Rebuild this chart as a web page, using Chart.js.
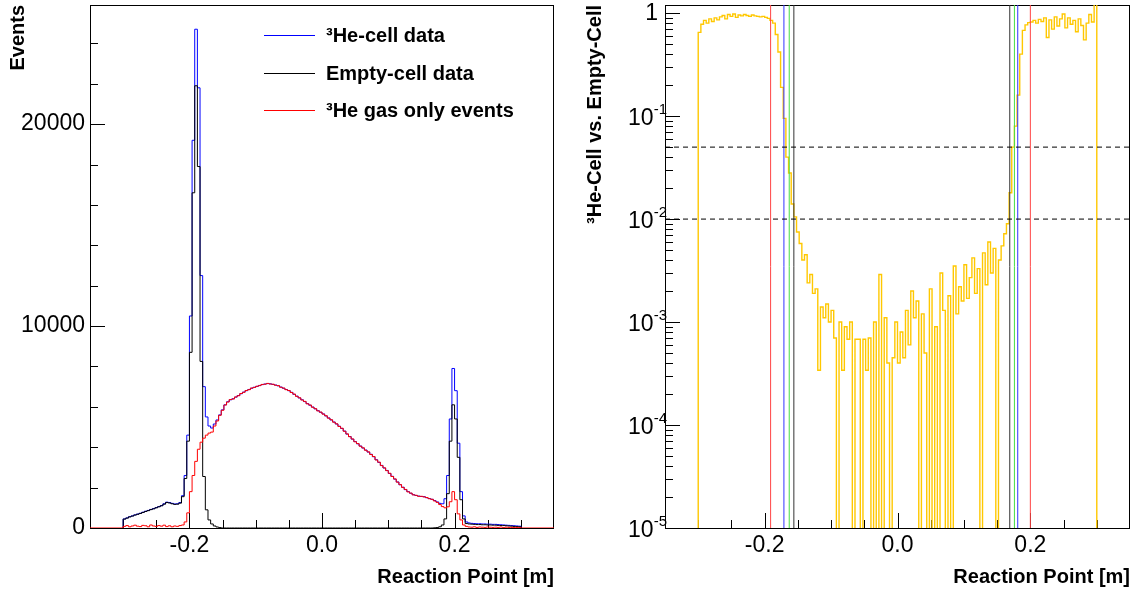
<!DOCTYPE html>
<html>
<head>
<meta charset="utf-8">
<script src="https://cdn.jsdelivr.net/npm/chart.js@4.4.1/dist/chart.umd.min.js"></script>
<style>
  html, body { margin: 0; padding: 0; background: #fff; }
  #wrap { position: relative; width: 1131px; height: 594px; }
  .panel { position: absolute; top: 0; }
  #left { left: 0; }
  #right { left: 565px; }
</style>
</head>
<body>
<div id="wrap">
  <div class="panel" id="left"><canvas id="histChart" width="565" height="594"></canvas></div>
  <div class="panel" id="right"><canvas id="ratioChart" width="566" height="594"></canvas></div>
</div>
<script>
// histogram binning: 150 bins of 0.004 m starting at -0.3 m
const binLow = -0.3;
const binWidth = 0.004;

// left panel: counts per bin
const heCell = [
  450, 500, 560, 600, 650, 690, 730, 780, 830, 870,
  920, 960, 1010, 1060, 1110, 1200, 1280, 1260, 1220, 1190,
  1200, 1260, 1600, 2600, 4600, 10500, 19200, 24700, 21800, 12500,
  7000, 5500, 5050, 4950, 5150, 5350, 5600, 5850, 6100, 6250,
  6350, 6400, 6480, 6560, 6650, 6730, 6800, 6860, 6920, 6970,
  7010, 7060, 7100, 7130, 7150, 7140, 7110, 7080, 7040, 6980,
  6920, 6860, 6800, 6720, 6620, 6530, 6440, 6350, 6260, 6160,
  6080, 5990, 5900, 5810, 5730, 5650, 5550, 5450, 5350, 5250,
  5150, 5040, 4930, 4800, 4650, 4530, 4400, 4280, 4170, 4060,
  3960, 3860, 3760, 3650, 3530, 3380, 3250, 3100, 2970, 2850,
  2700, 2560, 2420, 2280, 2140, 2020, 1900, 1800, 1720, 1650,
  1610, 1580, 1560, 1550, 1500, 1460, 1420, 1360, 1290, 1220,
  1200, 1450, 2600, 5400, 7900, 6800, 4200, 1800, 600, 300,
  250, 230, 220, 210, 210, 200, 200, 190, 190, 180,
  180, 170, 160, 150, 140, 130, 120, 110, 100, 90
];
const emptyCell = [
  440, 490, 550, 590, 640, 680, 720, 770, 820, 860,
  910, 950, 1000, 1050, 1100, 1180, 1260, 1240, 1200, 1170,
  1180, 1230, 1550, 2450, 4300, 8700, 16600, 21900, 17900, 8250,
  2550, 900, 400, 200, 100, 50, 20, 0, 0, 0,
  0, 0, 0, 0, 0, 0, 0, 0, 0, 0,
  0, 0, 0, 0, 0, 0, 0, 0, 0, 0,
  0, 0, 0, 0, 0, 0, 0, 0, 0, 0,
  0, 0, 0, 0, 0, 0, 0, 0, 0, 0,
  0, 0, 0, 0, 0, 0, 0, 0, 0, 0,
  0, 0, 0, 0, 0, 0, 0, 0, 0, 0,
  0, 0, 0, 0, 0, 0, 0, 0, 0, 0,
  0, 0, 0, 0, 0, 0, 0, 10, 20, 60,
  150, 450, 1700, 4300, 6100, 5400, 3500, 1400, 450, 220,
  200, 190, 180, 170, 170, 160, 160, 150, 150, 140,
  140, 130, 120, 120, 110, 100, 90, 80, 70, 60
];
const gasOnly = [
  80, 120, 60, 100, 140, 90, 70, 130, 110, 60,
  150, 100, 80, 120, 90, 140, 70, 110, 60, 100,
  80, 120, 150, 300, 750, 1800, 2600, 3300, 3900, 4250,
  4450, 4600, 4700, 4750, 5050, 5300, 5580, 5830, 6090, 6240,
  6360, 6390, 6490, 6550, 6660, 6720, 6810, 6850, 6930, 6960,
  7020, 7050, 7110, 7120, 7160, 7130, 7120, 7070, 7050, 6970,
  6930, 6850, 6810, 6710, 6630, 6520, 6450, 6340, 6270, 6150,
  6090, 5980, 5910, 5800, 5740, 5640, 5560, 5440, 5360, 5240,
  5160, 5030, 4940, 4790, 4660, 4520, 4410, 4270, 4180, 4050,
  3970, 3850, 3770, 3640, 3540, 3370, 3260, 3090, 2980, 2840,
  2710, 2550, 2430, 2270, 2150, 2010, 1910, 1790, 1730, 1640,
  1620, 1570, 1570, 1540, 1510, 1450, 1420, 1340, 1270, 1160,
  1060, 1000, 1050, 1300, 1800, 1400, 700, 400, 150, 80,
  50, 40, 60, 30, 50, 40, 30, 50, 40, 30,
  40, 30, 50, 20, 40, 30, 30, 20, 30, 20
];

// right panel: ratio per bin (0 = empty bin)
const ratio = [
  0.65, 0.78, 0.85, 0.80, 0.88, 0.83, 0.90, 0.86, 0.92, 0.95,
  0.88, 0.97, 0.93, 0.98, 0.91, 0.96, 0.94, 0.97, 0.95, 0.93,
  0.96, 0.94, 0.93, 0.92, 0.93, 0.91, 0.89, 0.85, 0.80, 0.62,
  0.42, 0.19, 0.095, 0.040, 0.028, 0.014, 0.0105, 0.0075, 0.0058, 0.0040,
  0.0045, 0.0024, 0.0029, 0.0019, 0.0021, 0.00034, 0.0014, 0.0011, 0.0015, 0.0010,
  0.0013, 0.0007, 0, 0.0010, 0.00034, 0.0009, 0.00068, 0.0010, 0, 0.00068,
  0.00068, 0, 0.00068, 0.00034, 0.0007, 0, 0.0010, 0, 0.0029, 0,
  0.0011, 0.0004, 0, 0.00045, 0.0010, 0.0004, 0.0008, 0.00045, 0.0013, 0.0006,
  0.0020, 0.0011, 0.0016, 0, 0.0012, 0.0005, 0, 0.0021, 0, 0.0009,
  0, 0.0030, 0.0013, 0, 0.0018, 0, 0.0035, 0.0012, 0.0022, 0.0016,
  0.0036, 0.0017, 0.0027, 0.0042, 0.0019, 0.0033, 0, 0.0047, 0.0023, 0.0060,
  0.0030, 0.0052, 0, 0.0040, 0.0055, 0.0072, 0.009, 0.018, 0.050, 0.080,
  0.16, 0.40, 0.68, 0.77, 0.81, 0.82, 0.85, 0.80, 0.87, 0.83,
  0.90, 0.58, 0.86, 0.70, 0.92, 0.75, 0.88, 0.98, 0.72, 0.90,
  0.78, 0.85, 0.66, 0.88, 0.76, 0.55, 0.80, 0.97, 0.82, 1.6
];

// cut positions [m] and ratio levels
const cutRed = [-0.191, 0.200];
const cutBlue = [-0.171, 0.181];
const cutGreen = [-0.163, 0.176];
const cutBlack = [-0.156, 0.169];
const ratioLevels = [0.05, 0.01];

// ticks and labels
const xLabelTicks = [-0.2, 0.0, 0.2];
const xMinorTicks = [-0.3, -0.25, -0.15, -0.1, -0.05, 0.05, 0.1, 0.15, 0.25, 0.3];
const histLabelTicks = [0, 10000, 20000];
const histMinorTicks = [2000, 4000, 6000, 8000, 12000, 14000, 16000, 18000, 22000, 24000];
const ratioExponents = [0, -1, -2, -3, -4, -5];
const legendLabels = ['\u00b3He-cell data', 'Empty-cell data', '\u00b3He gas only events'];

const FONT = '"Liberation Sans", Arial, Helvetica, sans-serif';
Chart.defaults.font.family = FONT;
Chart.defaults.color = '#000';

function stepPoints(values, floor) {
  const pts = [{x: binLow, y: floor}];
  values.forEach((v, i) => pts.push({x: binLow + i * binWidth, y: v > 0 ? v : floor}));
  pts.push({x: binLow + values.length * binWidth, y: floor});
  return pts;
}

function histSet(data, color, width) {
  return {data, borderColor: color, borderWidth: width || 1, pointRadius: 0, stepped: 'before', fill: false};
}

// keep the chart area where it is: no extra room for edge labels
function noPad(s) {
  s.paddingTop = 0; s.paddingBottom = 0; s.paddingLeft = 0; s.paddingRight = 0;
}

// ROOT style frame with ticks pointing inward
const rootAxes = {
  id: 'rootAxes',
  beforeDatasetsDraw(chart, args, opts) {
    const {ctx, chartArea: a, scales} = chart;
    const snap = v => Math.round(v) + 0.5;
    ctx.save();
    ctx.strokeStyle = '#000';
    ctx.lineWidth = 1;
    ctx.beginPath();
    opts.xMajor.forEach(v => { const p = snap(scales.x.getPixelForValue(v)); ctx.moveTo(p, a.bottom); ctx.lineTo(p, a.bottom - 15); });
    opts.xMinor.forEach(v => { const p = snap(scales.x.getPixelForValue(v)); ctx.moveTo(p, a.bottom); ctx.lineTo(p, a.bottom - 8); });
    opts.yMajor.forEach(v => { const p = snap(scales.y.getPixelForValue(v)); ctx.moveTo(a.left, p); ctx.lineTo(a.left + 15, p); });
    opts.yMinor.forEach(v => { const p = snap(scales.y.getPixelForValue(v)); ctx.moveTo(a.left, p); ctx.lineTo(a.left + 8, p); });
    ctx.stroke();
    ctx.strokeRect(Math.round(a.left) + 0.5, Math.round(a.top) + 0.5,
                   Math.round(a.right - a.left) - 1, Math.round(a.bottom - a.top));
    ctx.restore();
  }
};

const histLegend = {
  id: 'histLegend',
  afterDraw(chart, args, opts) {
    const ctx = chart.ctx;
    ctx.save();
    ctx.font = 'bold 20px ' + FONT;
    ctx.textBaseline = 'middle';
    opts.items.forEach((it, i) => {
      const yy = Math.round(opts.top + i * opts.step) + 0.5;
      ctx.strokeStyle = it.color;
      ctx.lineWidth = 1;
      ctx.beginPath();
      ctx.moveTo(opts.x0, yy);
      ctx.lineTo(opts.x1, yy);
      ctx.stroke();
      ctx.fillStyle = '#000';
      ctx.fillText(it.text, opts.tx, yy + 1);
    });
    ctx.restore();
  }
};

const logLabels = {
  id: 'logLabels',
  afterDraw(chart, args, opts) {
    const {ctx, chartArea: a, scales: {y}} = chart;
    ctx.save();
    ctx.fillStyle = '#000';
    ctx.textBaseline = 'middle';
    ctx.textAlign = 'right';
    opts.exponents.forEach(n => {
      const py = y.getPixelForValue(Math.pow(10, n));
      if (n === 0) {
        ctx.font = '23px ' + FONT;
        ctx.fillText('1', a.left - 7, py + 1);
        return;
      }
      const exp = String(n);
      ctx.font = '15px ' + FONT;
      ctx.fillText(exp, a.left + 2, py - 6);
      const w = ctx.measureText(exp).width;
      ctx.font = '23px ' + FONT;
      ctx.fillText('10', a.left + 2 - w, py + 3);
    });
    ctx.restore();
  }
};

function xAxis() {
  return {
    type: 'linear', min: -0.35, max: 0.35,
    grid: {display: false, drawTicks: false},
    border: {display: false},
    afterBuildTicks: s => { s.ticks = xLabelTicks.map(v => ({value: v})); },
    afterFit: s => { s.height = 66; noPad(s); },
    ticks: {autoSkip: false, maxRotation: 0, padding: 4, font: {size: 23},
            callback: v => Number(v).toFixed(1)},
    title: {display: true, text: 'Reaction Point [m]', align: 'end',
            font: {size: 20, weight: 'bold'}, padding: {top: 0, bottom: 5}}
  };
}

// left: event distributions
const redPts = [{x: -0.35, y: 0}].concat(stepPoints(gasOnly, 0), [{x: 0.35, y: 0}]);
new Chart(document.getElementById('histChart'), {
  type: 'line',
  data: {
    datasets: [
      histSet(redPts, '#ff0000'),
      histSet(stepPoints(emptyCell, 0), '#000000'),
      histSet(stepPoints(heCell, 0), '#0000ff')
    ]
  },
  options: {
    responsive: false, animation: false, events: [],
    layout: {padding: {left: 0, right: 11, top: 5, bottom: 0}},
    plugins: {
      legend: {display: false}, tooltip: {enabled: false},
      rootAxes: {xMajor: xLabelTicks, xMinor: xMinorTicks, yMajor: histLabelTicks, yMinor: histMinorTicks},
      histLegend: {
        x0: 264, x1: 315, tx: 326, top: 35, step: 37.5,
        items: [
          {text: legendLabels[0], color: '#0000ff'},
          {text: legendLabels[1], color: '#000000'},
          {text: legendLabels[2], color: '#ff0000'}
        ]
      }
    },
    scales: {
      x: xAxis(),
      y: {
        type: 'linear', min: 0, max: 25900,
        grid: {display: false, drawTicks: false},
        border: {display: false},
        afterBuildTicks: s => { s.ticks = histLabelTicks.map(v => ({value: v})); },
        afterFit: s => { s.width = 90; noPad(s); },
        ticks: {padding: 5, font: {size: 23}, callback: v => String(v)},
        title: {display: true, text: 'Events', align: 'end',
                font: {size: 20, weight: 'bold'}, padding: {top: 6, bottom: 0}}
      }
    }
  },
  plugins: [rootAxes, histLegend]
});

// right: ratio with cut lines
const yTop = 1.2, yBottom = 1e-5;
function vLine(x, color) {
  return {data: [{x, y: yBottom}, {x, y: yTop}], borderColor: color, borderWidth: 1, pointRadius: 0};
}
function hLine(y) {
  return {data: [{x: -0.35, y}, {x: 0.35, y}], borderColor: '#000', borderWidth: 1, borderDash: [5, 4], pointRadius: 0};
}
const ratioSets = [];
ratioLevels.forEach(l => ratioSets.push(hLine(l)));
cutBlack.forEach(c => ratioSets.push(vLine(c, '#333333')));
cutGreen.forEach(c => ratioSets.push(vLine(c, '#44dd44')));
cutBlue.forEach(c => ratioSets.push(vLine(c, '#3333ff')));
cutRed.forEach(c => ratioSets.push(vLine(c, '#ff4444')));
ratioSets.push(Object.assign(histSet(stepPoints(ratio, 1e-7), '#ffc800', 1.4), {clip: 0}));

new Chart(document.getElementById('ratioChart'), {
  type: 'line',
  data: {datasets: ratioSets},
  options: {
    responsive: false, animation: false, events: [],
    layout: {padding: {left: 0, right: 1, top: 5, bottom: 0}},
    plugins: {
      legend: {display: false}, tooltip: {enabled: false},
      rootAxes: {
        xMajor: xLabelTicks, xMinor: xMinorTicks,
        yMajor: ratioExponents.map(n => Math.pow(10, n)),
        yMinor: ratioExponents.slice(1).flatMap(n => [2, 3, 4, 5, 6, 7, 8, 9].map(k => k * Math.pow(10, n)))
      },
      logLabels: {exponents: ratioExponents}
    },
    scales: {
      x: xAxis(),
      y: {
        type: 'logarithmic', min: yBottom, max: yTop,
        grid: {display: false, drawTicks: false},
        border: {display: false},
        afterFit: s => { s.width = 100; noPad(s); },
        ticks: {display: false},
        title: {display: true, text: '\u00b3He-Cell vs. Empty-Cell', align: 'end',
                font: {size: 20, weight: 'bold'}, padding: {top: 18, bottom: 0}}
      }
    }
  },
  plugins: [rootAxes, logLabels]
});
</script>
</body>
</html>
